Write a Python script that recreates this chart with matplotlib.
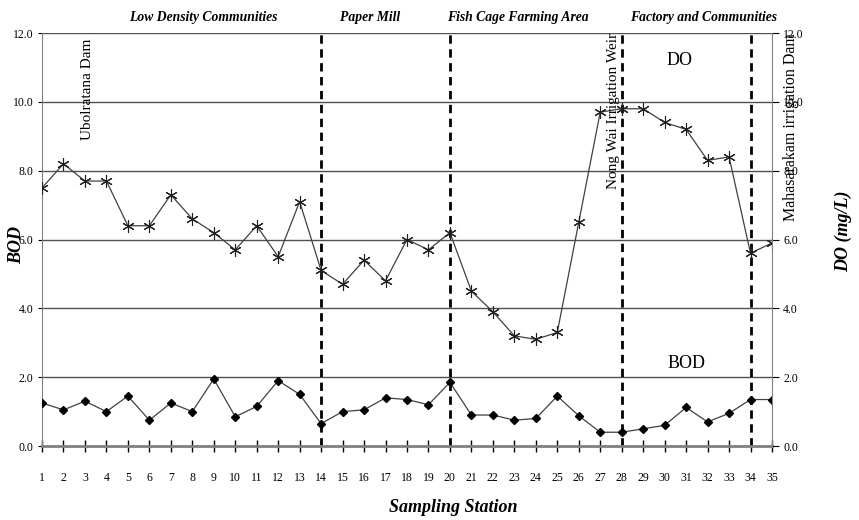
import matplotlib.pyplot as plt

# sampling stations along the river
stations = list(range(1, 36))

# dissolved oxygen (mg/L)
do_vals = [7.5, 8.2, 7.7, 7.7, 6.4, 6.4, 7.3, 6.6, 6.2, 5.7,
           6.4, 5.5, 7.1, 5.1, 4.7, 5.4, 4.8, 6.0, 5.7, 6.2,
           4.5, 3.9, 3.2, 3.1, 3.3, 6.5, 9.7, 9.8, 9.8, 9.4,
           9.2, 8.3, 8.4, 5.6, 5.9]

# biochemical oxygen demand (mg/L)
bod_vals = [1.25, 1.05, 1.3, 1.0, 1.45, 0.75, 1.25, 1.0, 1.95, 0.85,
            1.15, 1.9, 1.5, 0.65, 1.0, 1.05, 1.4, 1.35, 1.2, 1.85,
            0.9, 0.9, 0.75, 0.8, 1.45, 0.88, 0.4, 0.4, 0.5, 0.6,
            1.12, 0.7, 0.95, 1.35, 1.35]

# zone boundaries and zone names
boundaries = [14, 20, 28, 34]
zones = ["Low Density Communities", "Paper Mill",
         "Fish Cage Farming Area", "Factory and Communities"]
zone_x = [8.5, 16.3, 23.15, 31.8]

serif = "Liberation Serif"

fig = plt.figure(figsize=(8.59, 5.2), dpi=100)
ax = fig.add_axes([0.0489, 0.1423, 0.8498, 0.7942])

for v in [2, 4, 6, 8, 10, 12]:
    ax.axhline(v, color="#505050", lw=1, zorder=1)

for b in boundaries:
    ax.axvline(b, color="black", lw=2, ls=(0, (3, 2)), zorder=2)

ax.plot(stations, do_vals, color="#404040", lw=0.9, marker=(6, 2, 0),
        markersize=9, markeredgewidth=0.8, markeredgecolor="#202020", zorder=3)
ax.plot(stations, bod_vals, color="#404040", lw=0.9, marker="D",
        markersize=4, markerfacecolor="black", markeredgecolor="black", zorder=3)

ax.set_xlim(1, 35)
ax.set_ylim(0, 12)
ax.set_xticks(stations)
ax.set_yticks([0, 2, 4, 6, 8, 10, 12])
ax.set_yticklabels([f"{v:.1f}" for v in [0, 2, 4, 6, 8, 10, 12]])

for s in ["top", "right"]:
    ax.spines[s].set_visible(False)
ax.spines["left"].set_color("#808080")
ax.spines["bottom"].set_color("#808080")
ax.spines["bottom"].set_linewidth(2)

ax.tick_params(axis="x", direction="inout", length=9, width=1, pad=14,
               labelsize=8.5, colors="black")
ax.tick_params(axis="y", direction="out", length=3, labelsize=8.5, pad=3)
for lbl in ax.get_xticklabels() + ax.get_yticklabels():
    lbl.set_fontfamily(serif)

ax2 = ax.twinx()
ax2.set_ylim(0, 12)
ax2.set_yticks([0, 2, 4, 6, 8, 10, 12])
ax2.set_yticklabels([f"{v:.1f}" for v in [0, 2, 4, 6, 8, 10, 12]])
for s in ["top", "left", "bottom"]:
    ax2.spines[s].set_visible(False)
ax2.spines["right"].set_color("#808080")
ax2.tick_params(axis="y", direction="out", length=5, labelsize=8.5, pad=3)
for lbl in ax2.get_yticklabels():
    lbl.set_fontfamily(serif)

for name, x in zip(zones, zone_x):
    ax.text(x, 12.25, name, ha="center", va="bottom", fontsize=9.8,
            fontweight="bold", fontstyle="italic", family=serif)

ax.text(3.1, 11.85, "Ubolratana Dam", rotation=90, ha="center", va="top",
        fontsize=11, family=serif)
ax.text(27.6, 12.0, "Nong Wai Irrigation Weir", rotation=90, ha="center",
        va="top", fontsize=11, family=serif)
ax.text(35.9, 12.0, "Mahasarakam irrigation Dam", rotation=90, ha="center",
        va="top", fontsize=11.5, family=serif, clip_on=False)
ax.text(30.7, 11.2, "DO", ha="center", va="center", fontsize=13, family=serif)
ax.text(31.0, 2.4, "BOD", ha="center", va="center", fontsize=13, family=serif)

fig.text(453 / 859, 1 - 508 / 520, "Sampling Station", ha="center",
         va="center", fontsize=13, fontweight="bold", fontstyle="italic",
         family=serif)
fig.text(17 / 859, 1 - 245 / 520, "BOD", ha="center", va="center",
         rotation=90, fontsize=13, fontweight="bold", fontstyle="italic",
         family=serif)
fig.text(843 / 859, 1 - 231 / 520, "DO (mg/L)", ha="center", va="center",
         rotation=90, fontsize=13, fontweight="bold", fontstyle="italic",
         family=serif)

fig.savefig("out.png", dpi=100)
